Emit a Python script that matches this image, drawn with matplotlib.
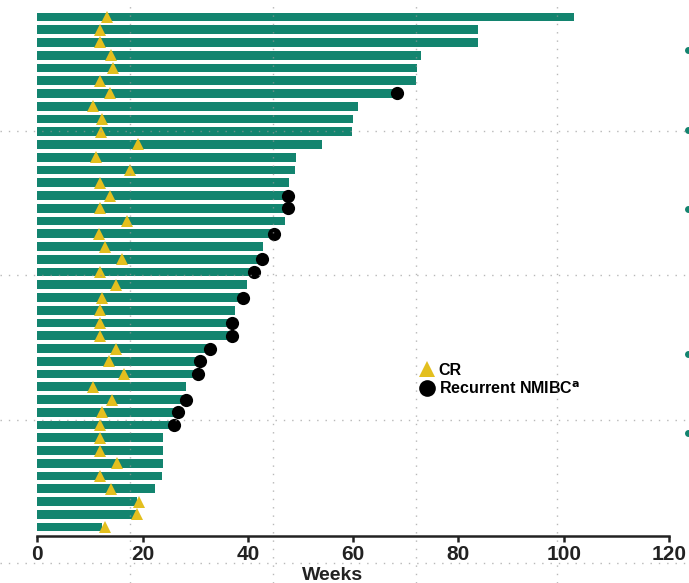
import matplotlib
matplotlib.use("Agg")
import matplotlib.pyplot as plt
from matplotlib.lines import Line2D
import numpy as np

# weeks on study for each patient (top to bottom)
duration = [102.0, 83.7, 83.7, 72.8, 72.2, 72.0, 68.4, 60.9, 59.9, 59.8,
            54.0, 49.1, 49.0, 47.9, 47.6, 47.6, 47.0, 44.9, 42.8, 42.7,
            41.2, 39.9, 39.1, 37.6, 37.0, 37.0, 32.9, 30.9, 30.5, 28.3,
            28.2, 26.8, 25.9, 23.9, 23.9, 23.8, 23.6, 22.3, 19.0, 18.9,
            12.2]
# time of complete response (weeks)
cr_week = [13.2, 12.0, 12.0, 14.0, 14.3, 12.0, 13.8, 10.5, 12.3, 12.1,
           19.1, 11.1, 17.7, 12.0, 13.8, 12.0, 17.0, 11.8, 12.8, 16.1,
           12.0, 14.9, 12.3, 12.0, 11.9, 12.0, 14.9, 13.7, 16.5, 10.5,
           14.2, 12.3, 12.0, 12.0, 12.0, 15.1, 12.0, 14.0, 19.4, 19.0,
           12.8]
# rows (0 = top) ending with recurrent NMIBC
recurrent_rows = [6, 14, 15, 17, 19, 20, 22, 24, 25, 26, 27, 28, 30, 31, 32]
xticks = [0, 20, 40, 60, 80, 100, 120]

teal = "#13846f"
gold = "#e3bf1e"

W, H = 689, 583
fig = plt.figure(figsize=(W / 100, H / 100), dpi=100)
ax = fig.add_axes([37.3 / W, 1 - 535.7 / H, (669 - 37.3) / W, (535.7 - 5) / H])

rows = np.arange(len(duration))
ax.barh(rows, duration, height=0.68, color=teal, zorder=2)
ax.plot(cr_week, rows, linestyle="none", marker="^", markersize=9,
        color=gold, markeredgewidth=0, zorder=3)
rec_x = [duration[i] for i in recurrent_rows]
ax.plot(rec_x, recurrent_rows, linestyle="none", marker="o", markersize=9.5,
        color="black", markeredgewidth=0, zorder=4)

ax.set_xlim(0, 120)
ax.set_ylim(len(duration) - 1 + 0.68, -0.94)
ax.set_xticks(xticks)
ax.set_yticks([])
for s in ["left", "top", "right"]:
    ax.spines[s].set_visible(False)
ax.spines["bottom"].set_linewidth(1.8)
ax.spines["bottom"].set_color("#222222")
ax.tick_params(axis="x", length=4, width=1.8, color="#222222", pad=3)
for lab in ax.get_xticklabels():
    lab.set_family(["Liberation Sans", "DejaVu Sans"])
    lab.set_fontsize(15)
    lab.set_fontweight("bold")
    lab.set_color("#222222")

fig.text(333 / W, 1 - 575 / H, "Weeks", ha="center", va="center",
         fontsize=14, fontweight="bold", color="#222222",
         family=["Liberation Sans", "DejaVu Sans"])

handles = [
    Line2D([], [], linestyle="none", marker="^", markersize=12, color=gold,
           markeredgewidth=0),
    Line2D([], [], linestyle="none", marker="o", markersize=12, color="black",
           markeredgewidth=0),
]
leg = fig.legend(handles, ["CR", r"Recurrent NMIBC$^{\mathbf{a}}$"],
                 loc="upper left", bbox_to_anchor=(413 / W, 1 - 355 / H),
                 frameon=False, handlelength=0.8, handletextpad=0.3,
                 labelspacing=0.15, borderpad=0,
                 prop={"family": ["Liberation Sans", "DejaVu Sans"],
                       "weight": "bold", "size": 11.5})

# faint dotted slide guides
guide = dict(color="#9a9a9a", linewidth=1, linestyle=(0, (1, 5)), alpha=0.7,
             transform=fig.transFigure, zorder=10)
for yp in [131, 275, 420, 563]:
    fig.add_artist(Line2D([0, 1], [1 - yp / H, 1 - yp / H], **guide))
for xp in [130, 273, 416, 557]:
    fig.add_artist(Line2D([xp / W, xp / W], [0, 1], **guide))

# cut-off bullets at the right edge
for yp in [50, 130, 209, 354, 433]:
    fig.add_artist(Line2D([688 / W], [1 - yp / H], marker="o", markersize=5,
                          color=teal, markeredgewidth=0,
                          transform=fig.transFigure))

fig.savefig("out.png", dpi=100)
